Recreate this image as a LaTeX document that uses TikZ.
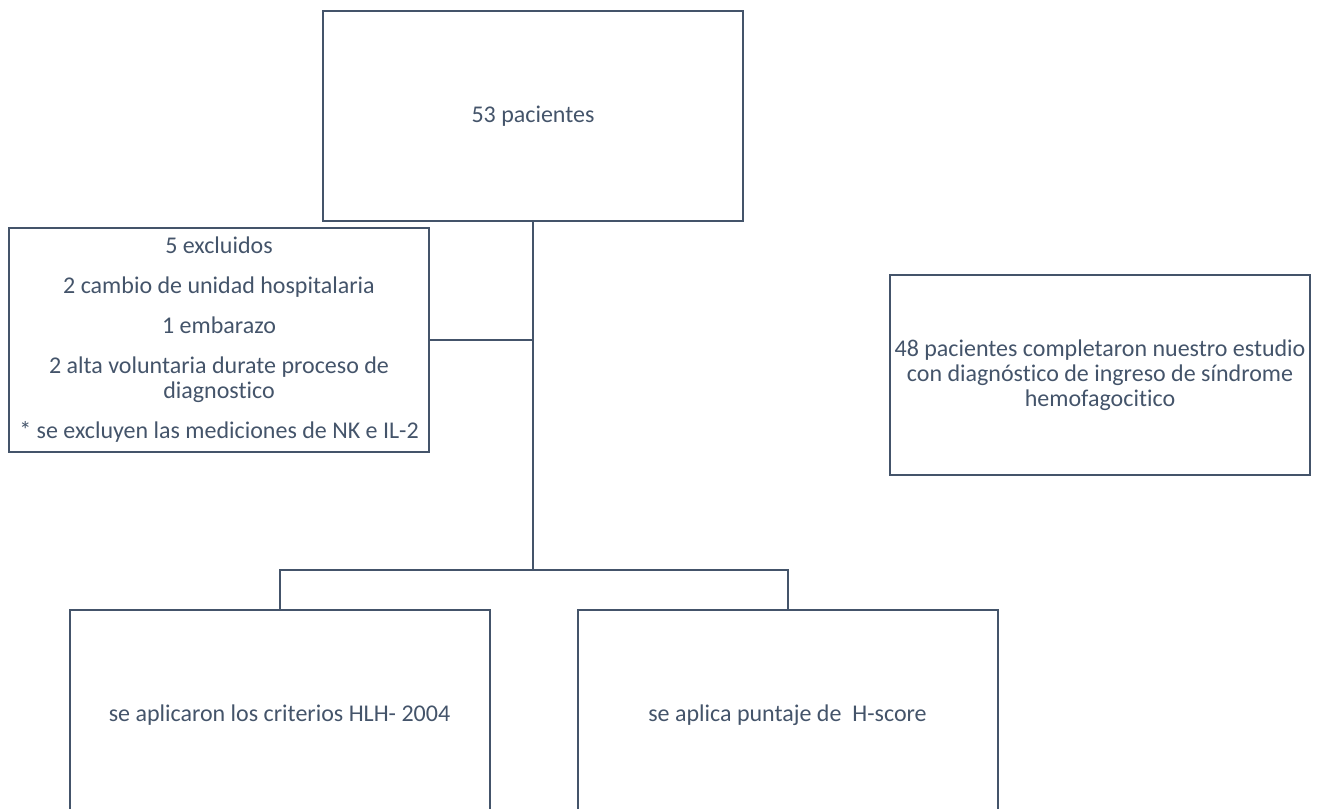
\documentclass[tikz,border=0pt]{standalone}
\usepackage{fontspec}
\setmainfont{Carlito}[Ligatures=NoCommon]
\usepackage{tikz}
\usetikzlibrary{calc}
\definecolor{slate}{RGB}{68,84,106}
\tikzset{
	flowbox/.style={draw=slate, line width=1.5pt, text=slate, minimum width=315pt, align=center, inner sep=0pt, font=\fontsize{18pt}{18.75pt}\selectfont},
	link/.style={draw=slate, line width=1.5pt}
}

\begin{document}
\begin{tikzpicture}[x=0.75pt,y=-0.75pt]
	\useasboundingbox (0,0) rectangle (1324,809);
	\clip (0,0) rectangle (1324,809);
	\node[flowbox, minimum height=157.5pt] (pacientes) at (533,116) {53 pacientes};
	\node[flowbox, minimum height=168pt] (excluidos) at (219,340) {5 excluidos\\[11.25pt]2 cambio de unidad hospitalaria\\[11.25pt]1 embarazo\\[11.25pt]2 alta voluntaria durate proceso de\\diagnostico\\[11.25pt]* se excluyen las mediciones de NK e IL-2};
	\node[flowbox, minimum height=150pt] (completaron) at (1100,375) {48 pacientes completaron nuestro estudio\\con diagnóstico de ingreso de síndrome\\hemofagocitico};
	\node[flowbox, minimum height=157.5pt] (hlh) at (279.5,715) {se aplicaron los criterios HLH- 2004};
	\node[flowbox, minimum height=157.5pt] (hscore) at (787.5,715) {se aplica puntaje de \ H-score};
	\coordinate (split) at (533,570);
	\draw[link] (pacientes.south) -- (split);
	\draw[link] (excluidos.east) -- (excluidos.east -| split);
	\draw[link] (hlh.north) |- (split) -| (hscore.north);
\end{tikzpicture}
\end{document}
